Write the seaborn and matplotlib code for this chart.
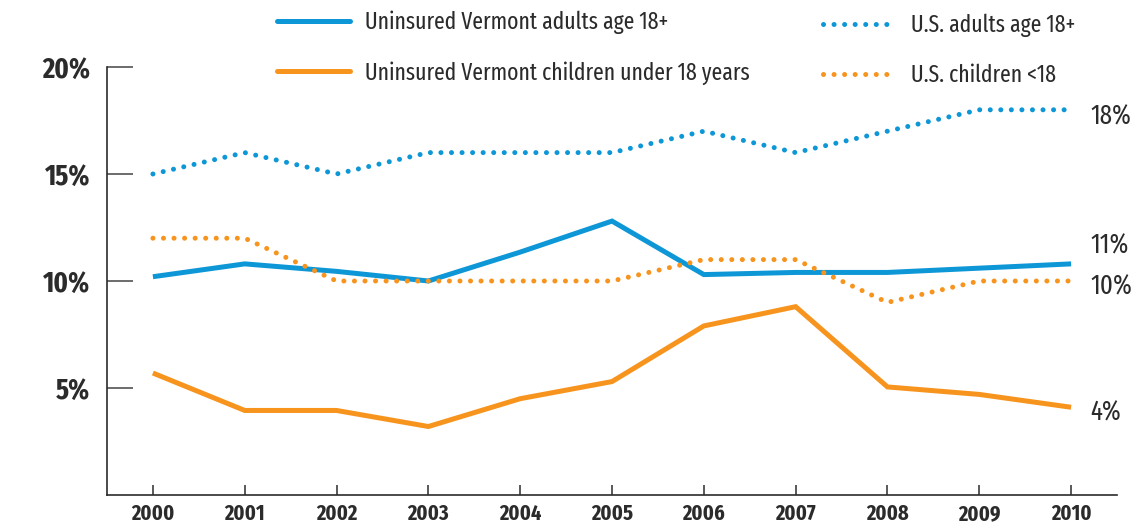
import matplotlib
matplotlib.use("Agg")
import matplotlib.pyplot as plt
import matplotlib.font_manager as fm
from matplotlib.lines import Line2D
import seaborn as sns
import pandas as pd

years = [2000, 2001, 2002, 2003, 2004, 2005, 2006, 2007, 2008, 2009, 2010]
vt_adults = [10.2, 10.8, 10.45, 10.0, 11.35, 12.8, 10.3, 10.4, 10.4, 10.6, 10.8]
vt_children = [5.7, 3.95, 3.95, 3.2, 4.5, 5.3, 7.9, 8.8, 5.05, 4.7, 4.1]
us_adults = [15, 16, 15, 16, 16, 16, 17, 16, 17, 18, 18]
us_children = [12, 12, 10, 10, 10, 10, 11, 11, 9, 10, 10]
series_names = ["Uninsured Vermont adults age 18+",
                "Uninsured Vermont children under 18 years",
                "U.S. adults age 18+",
                "U.S. children <18"]
end_labels = ["11%", "4%", "18%", "10%"]
y_ticks = [5, 10, 15, 20]

BLUE = "#0E97D6"
ORANGE = "#F7941E"
DARK = "#2b2b2b"

names = set(f.name for f in fm.fontManager.ttflist)
cands = ["Fira Sans Extra Condensed", "Fira Sans Condensed", "PT Sans Narrow",
         "Roboto Condensed", "Archivo Narrow", "Liberation Sans Narrow", "DejaVu Sans"]
narrow = next(c for c in cands if c in names)
fam = [narrow, "DejaVu Sans"]

sns.set_theme(style="white")
plt.rcParams["font.family"] = fam

fig = plt.figure(figsize=(11.38, 5.26), dpi=100)
renderer = fig.canvas.get_renderer()


def fit_size(text, target_px, weight="normal", base=20.0):
    t = fig.text(0, 0, text, fontsize=base, fontweight=weight, family=fam)
    w = t.get_window_extent(renderer).width
    t.remove()
    return base * target_px / w


LEG_W = "normal"
leg_fs = fit_size(series_names[1], 385, LEG_W)
tick_fs = fit_size("2000", 43, "bold")
ytick_fs = fit_size("20%", 48, "bold")
end_fs = fit_size("18%", 41)

ax = fig.add_axes([107/1138, 1-495/526, (1117-107)/1138, (495-67)/526])

series = [vt_adults, vt_children, us_adults, us_children]
colors = [BLUE, ORANGE, BLUE, ORANGE]
dotted = [False, False, True, True]
lw = 3.6
DOT = (0, (0.01, 2.1))
for name, vals, c, d in zip(series_names, series, colors, dotted):
    df = pd.DataFrame({"year": years, "pct": vals})
    if d:
        sns.lineplot(data=df, x="year", y="pct", ax=ax, color=c, lw=lw,
                     linestyle=DOT, dash_capstyle="round", legend=False)
    else:
        sns.lineplot(data=df, x="year", y="pct", ax=ax, color=c, lw=lw,
                     solid_capstyle="butt", solid_joinstyle="miter", legend=False)

offsets = [13, -4, -5, -4]
for vals, lab, off in zip(series, end_labels, offsets):
    ax.annotate(lab, xy=(years[-1], vals[-1]), xytext=(14, off), textcoords="offset points",
                va="center", ha="left", fontsize=end_fs, color=DARK, family=fam)

ax.set_xlim(1999.5, 2010.5)
ax.set_ylim(0, 20)
ax.set_xticks(years)
ax.set_xticklabels([str(y) for y in years])
ax.set_yticks(y_ticks)
ax.set_yticklabels([f"{v}%" for v in y_ticks])
ax.set_xlabel("")
ax.set_ylabel("")
for s in ["top", "right"]:
    ax.spines[s].set_visible(False)
for s in ["left", "bottom"]:
    ax.spines[s].set_color(DARK)
    ax.spines[s].set_linewidth(1.2)
ax.tick_params(axis="y", direction="in", length=19, width=1.1, color="#444444",
               pad=12, labelsize=ytick_fs, labelcolor=DARK, left=True)
ax.tick_params(axis="x", direction="in", length=7, width=1.1, color=DARK,
               pad=6, labelsize=tick_fs, labelcolor=DARK, bottom=True)
for t in ax.get_xticklabels() + ax.get_yticklabels():
    t.set_fontweight("bold")

# legends
fs_px = leg_fs * 100 / 72
h1 = [Line2D([], [], color=BLUE, lw=lw, solid_capstyle="round"),
      Line2D([], [], color=ORANGE, lw=lw, solid_capstyle="round")]
h2 = [Line2D([], [], color=BLUE, lw=lw, linestyle=DOT, dash_capstyle="round"),
      Line2D([], [], color=ORANGE, lw=lw, linestyle=DOT, dash_capstyle="round")]
common = dict(frameon=False, handlelength=73/fs_px, handletextpad=15/fs_px,
              borderpad=0, borderaxespad=0, loc="upper left",
              bbox_transform=fig.transFigure,
              prop={"family": fam, "weight": LEG_W, "size": leg_fs})
leg1 = ax.legend(h1, series_names[:2], bbox_to_anchor=(277/1138, 1-11/526),
                 labelspacing=(50 - fs_px)/fs_px, **common)
ax.add_artist(leg1)
leg2 = ax.legend(h2, series_names[2:], bbox_to_anchor=(823/1138, 1-14/526),
                 labelspacing=(50 - fs_px)/fs_px, **common)
for lg in (leg1, leg2):
    for t in lg.get_texts():
        t.set_color(DARK)

fig.savefig("out.png", dpi=100)
